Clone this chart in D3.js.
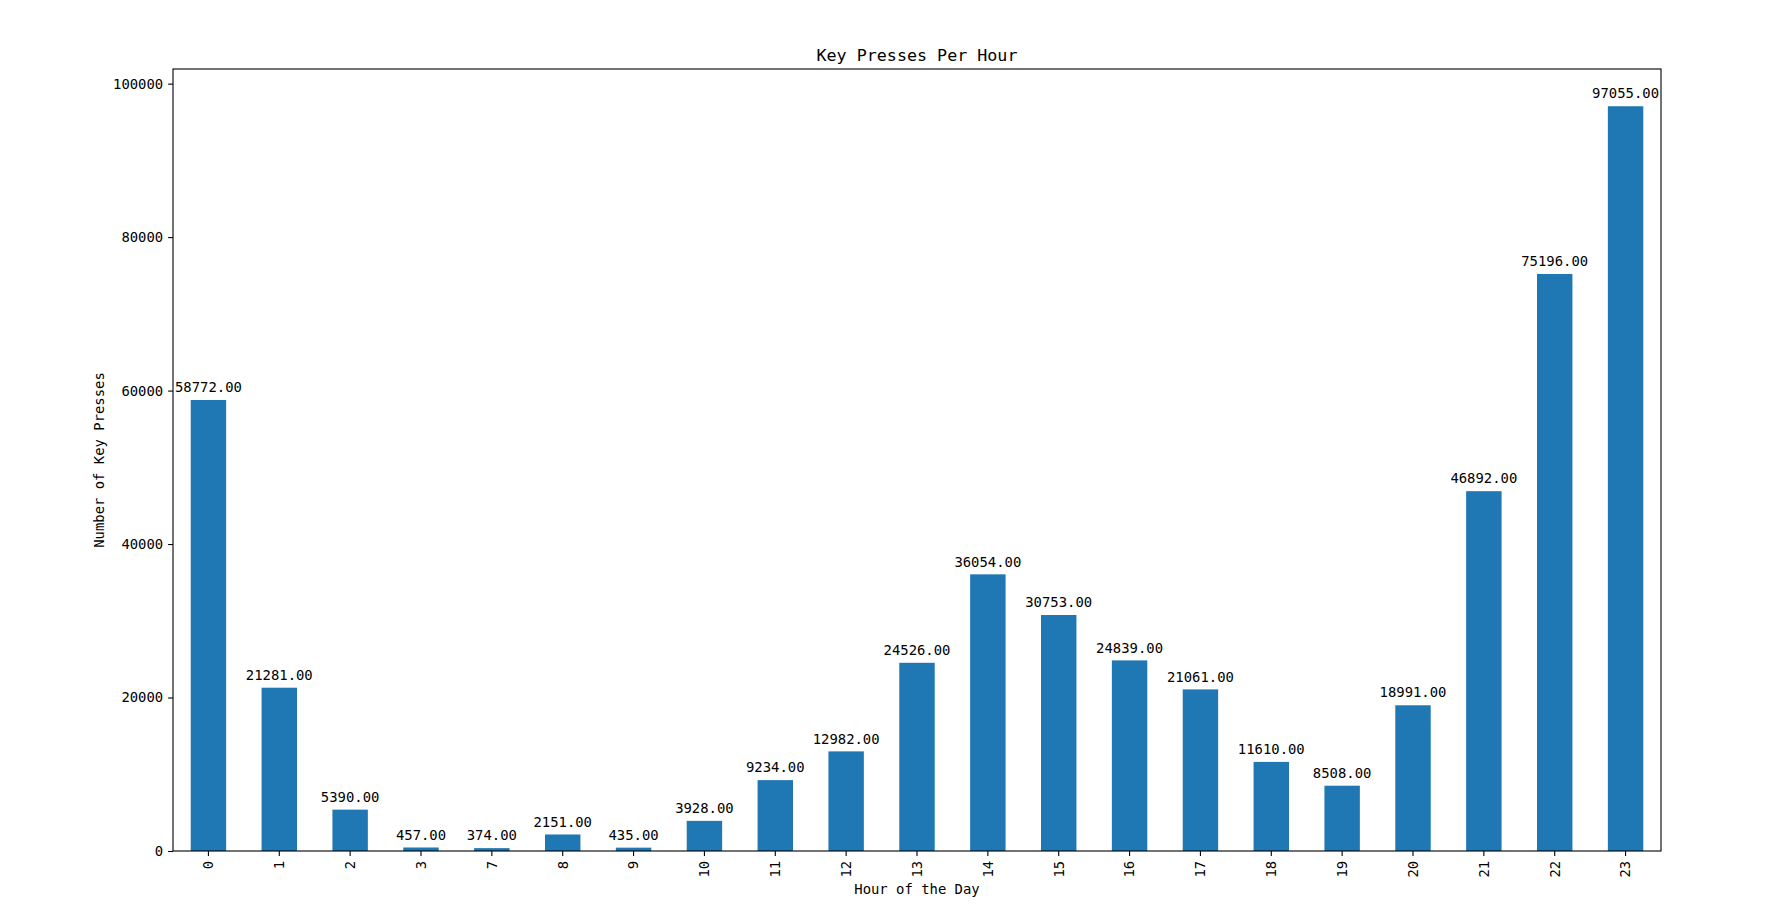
<!DOCTYPE html>
<html>
<head>
<meta charset="utf-8">
<script src="https://cdn.jsdelivr.net/npm/d3@7"></script>
<style>
  body { margin: 0; background: #fff; }
  text { font-family: "DejaVu Sans Mono", monospace; fill: #000; }
</style>
</head>
<body>
<div id="chart"></div>
<script>
var hours = ["0","1","2","3","7","8","9","10","11","12","13","14","15","16","17","18","19","20","21","22","23"]
var keyPresses = [58772,21281,5390,457,374,2151,435,3928,9234,12982,24526,36054,30753,24839,21061,11610,8508,18991,46892,75196,97055]
var yTicks = [0,20000,40000,60000,80000,100000]

var W = 1767, H = 918,
    margin = {left: 173, right: 106, top: 69, bottom: 67},
    fontPx = 13.9

var svg = d3.select("#chart").append("svg")
  .attr("width", W).attr("height", H)

var g = svg.append("g").attr("transform", "translate(" + margin.left + "," + margin.top + ")")
var iw = W - margin.left - margin.right,
    ih = H - margin.top - margin.bottom

var x = d3.scaleBand().domain(hours).range([0, iw]).paddingInner(0.5).paddingOuter(0.25)
var y = d3.scaleLinear().domain([0, d3.max(keyPresses) * 1.05]).range([ih, 0])

var data = hours.map(function(h, i){ return {hour: h, value: keyPresses[i]} })

// bars
g.selectAll(".bar")
  .data(data)
.enter().append("rect")
  .attr("class", "bar")
  .attr("x", function(d){ return x(d.hour) })
  .attr("width", x.bandwidth())
  .attr("y", function(d){ return y(d.value) })
  .attr("height", function(d){ return ih - y(d.value) })
  .attr("fill", "#1f77b4")

// value labels
g.selectAll(".barLabel")
  .data(data)
.enter().append("text")
  .attr("class", "barLabel")
  .attr("x", function(d){ return x(d.hour) + x.bandwidth()/2 })
  .attr("y", function(d){ return y(d.value) - 7.8 })
  .attr("text-anchor", "middle")
  .style("font-size", fontPx + "px")
  .text(function(d){ return d3.format(".2f")(d.value) })

// y axis
var yAxis = g.append("g")
  .call(d3.axisLeft(y).tickValues(yTicks).tickFormat(d3.format("d")).tickSize(4.9).tickPadding(4.9))
yAxis.select(".domain").remove()
yAxis.selectAll("line").attr("stroke", "#000").attr("stroke-width", 1.1)
yAxis.selectAll("text").style("font-size", fontPx + "px").attr("font-family", null)

// x axis
var xAxis = g.append("g")
  .attr("transform", "translate(0," + ih + ")")
  .call(d3.axisBottom(x).tickSize(4.9).tickPadding(0))
xAxis.select(".domain").remove()
xAxis.selectAll("line").attr("stroke", "#000").attr("stroke-width", 1.1)
xAxis.selectAll("text")
  .attr("font-family", null)
  .style("font-size", fontPx + "px")
  .attr("text-anchor", "end")
  .attr("dy", "0.35em")
  .attr("x", 0)
  .attr("y", 0)
  .attr("transform", "translate(0,9.8) rotate(-90)")

// frame
g.append("rect")
  .attr("width", iw).attr("height", ih)
  .attr("fill", "none").attr("stroke", "#000").attr("stroke-width", 1.1)

// title and axis labels
svg.append("text")
  .attr("x", margin.left + iw/2).attr("y", 61)
  .attr("text-anchor", "middle")
  .style("font-size", "16.7px")
  .text("Key Presses Per Hour")

svg.append("text")
  .attr("x", margin.left + iw/2).attr("y", 894)
  .attr("text-anchor", "middle")
  .style("font-size", fontPx + "px")
  .text("Hour of the Day")

svg.append("text")
  .attr("transform", "translate(103.5," + (margin.top + ih/2) + ") rotate(-90)")
  .attr("text-anchor", "middle")
  .style("font-size", fontPx + "px")
  .text("Number of Key Presses")
</script>
</body>
</html>
